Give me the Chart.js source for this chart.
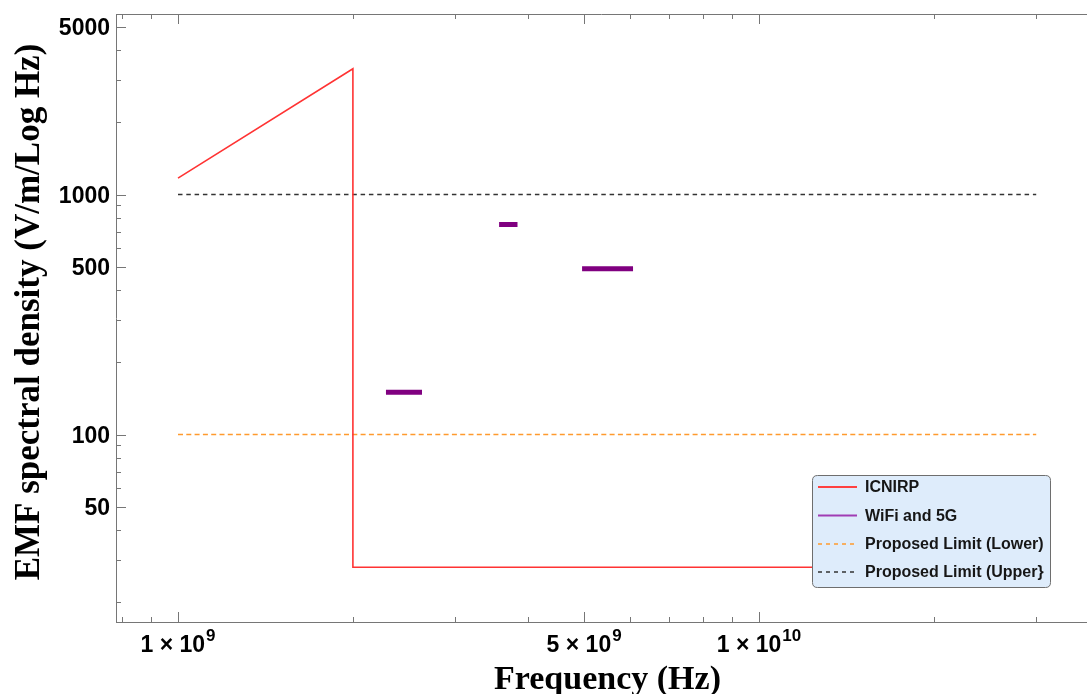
<!DOCTYPE html>
<html>
<head>
<meta charset="utf-8">
<script src="https://cdn.jsdelivr.net/npm/chart.js@4.4.1/dist/chart.umd.min.js"></script>
<style>
  html, body { margin: 0; padding: 0; background: #ffffff; }
  #wrap { width: 1087px; height: 694px; position: relative; }
</style>
</head>
<body>
<div id="wrap"><canvas id="c"></canvas></div>
<script>
// ---- data ----
const icnirpFreq  = [1e9, 2e9, 2e9, 3e10];
const icnirpValue = [1170, 3340, 28, 28];

const wifiStart = [2.28e9, 3.57e9, 4.96e9];
const wifiEnd   = [2.63e9, 3.84e9, 6.07e9];
const wifiValue = [150, 750, 490];

const limitFreq  = [1e9, 3e10];
const lowerLimit = [100, 100];
const upperLimit = [1000, 1000];

const xTickValues   = [1e9, 5e9, 1e10];
const xTickMantissa = ['1', '5', '1'];
const xTickExponent = ['9', '9', '10'];
const xMinorTicks = [8e8, 9e8, 2e9, 3e9, 4e9, 6e9, 7e9, 8e9, 9e9, 2e10, 3e10];
const yTickValues = [50, 100, 500, 1000, 5000];
const yTickLabels = ['50', '100', '500', '1000', '5000'];
const yMinorTicks = [20, 30, 40, 60, 70, 80, 90, 200, 300, 400, 600, 700, 800, 900, 2000, 3000, 4000];

const seriesLabels = ['ICNIRP', 'WiFi and 5G', 'Proposed Limit (Lower)', 'Proposed Limit (Upper}'];
const xTitle = 'Frequency (Hz)';
const yTitle = 'EMF spectral density (V/m/Log Hz)';

// ---- build datasets ----
const icnirpPts = icnirpFreq.map((f, i) => ({x: f, y: icnirpValue[i]}));
const wifiPts = [];
wifiStart.forEach((s, i) => {
  wifiPts.push({x: s, y: wifiValue[i]});
  wifiPts.push({x: wifiEnd[i], y: wifiValue[i]});
  if (i < wifiStart.length - 1) wifiPts.push({x: (wifiEnd[i] + wifiStart[i + 1]) / 2, y: null});
});
const lowerPts = limitFreq.map((f, i) => ({x: f, y: lowerLimit[i]}));
const upperPts = limitFreq.map((f, i) => ({x: f, y: upperLimit[i]}));

const FRAME = '#767676';
const SANS = '"Liberation Sans", Arial, sans-serif';
const SERIF = '"Liberation Serif", "Times New Roman", serif';

const legendStyles = [
  {color: '#ff4040', width: 2, dash: []},
  {color: '#a03cb4', width: 2, dash: []},
  {color: '#ff9a2e', width: 1.5, dash: [4, 4]},
  {color: '#333333', width: 1.5, dash: [4, 4]}
];

const framePlugin = {
  id: 'frameTicks',
  beforeDatasetsDraw(chart) {
    const {ctx, chartArea: a, scales: {x, y}} = chart;
    ctx.save();
    ctx.strokeStyle = FRAME;
    ctx.lineWidth = 1;
    ctx.beginPath();
    ctx.moveTo(a.left, Math.round(a.top) + 0.5);
    ctx.lineTo(a.right, Math.round(a.top) + 0.5);
    ctx.stroke();
    const xt = (v, len) => {
      const px = Math.round(x.getPixelForValue(v)) + 0.5;
      ctx.beginPath();
      ctx.moveTo(px, a.bottom); ctx.lineTo(px, a.bottom - len);
      ctx.moveTo(px, a.top); ctx.lineTo(px, a.top + len);
      ctx.stroke();
    };
    const yt = (v, len) => {
      const py = Math.round(y.getPixelForValue(v)) + 0.5;
      ctx.beginPath();
      ctx.moveTo(a.left, py); ctx.lineTo(a.left + len, py);
      ctx.stroke();
    };
    xTickValues.forEach(v => xt(v, 10));
    xMinorTicks.forEach(v => xt(v, 5));
    yTickValues.forEach(v => yt(v, 10));
    yMinorTicks.forEach(v => yt(v, 5));
    ctx.restore();
  },
  afterDraw(chart) {
    const {ctx, chartArea: a, scales: {x}} = chart;
    ctx.save();
    ctx.fillStyle = '#000';
    ctx.textBaseline = 'alphabetic';
    ctx.textAlign = 'left';
    const baseFont = 'bold 23px ' + SANS;
    const supFont = 'bold 17px ' + SANS;
    const baseY = a.bottom + 29.5;
    xTickValues.forEach((v, i) => {
      const p1 = xTickMantissa[i] + ' \u00d7 10';
      const p2 = xTickExponent[i];
      ctx.font = baseFont; const w1 = ctx.measureText(p1).width;
      ctx.font = supFont; const w2 = ctx.measureText(p2).width;
      const left = x.getPixelForValue(v) - (w1 + w2 + 1) / 2;
      ctx.font = baseFont; ctx.fillText(p1, left, baseY);
      ctx.font = supFont; ctx.fillText(p2, left + w1 + 1, baseY - 11);
    });
    // axis titles
    ctx.textAlign = 'center';
    ctx.textBaseline = 'alphabetic';
    ctx.font = 'bold 34px ' + SERIF;
    ctx.fillText(xTitle, (a.left + a.right) / 2 + 6, 689);
    ctx.save();
    ctx.translate(39, 312);
    ctx.rotate(-Math.PI / 2);
    ctx.font = 'bold 35px ' + SERIF;
    ctx.fillText(yTitle, 0, 0);
    ctx.restore();
    ctx.restore();
  }
};

const legendPlugin = {
  id: 'boxLegend',
  afterDraw(chart) {
    const {ctx} = chart;
    const bx = 812.5, by = 475.5, bw = 238, bh = 112, r = 5;
    ctx.save();
    ctx.beginPath();
    ctx.moveTo(bx + r, by);
    ctx.lineTo(bx + bw - r, by);
    ctx.quadraticCurveTo(bx + bw, by, bx + bw, by + r);
    ctx.lineTo(bx + bw, by + bh - r);
    ctx.quadraticCurveTo(bx + bw, by + bh, bx + bw - r, by + bh);
    ctx.lineTo(bx + r, by + bh);
    ctx.quadraticCurveTo(bx, by + bh, bx, by + bh - r);
    ctx.lineTo(bx, by + r);
    ctx.quadraticCurveTo(bx, by, bx + r, by);
    ctx.closePath();
    ctx.fillStyle = '#deecfb';
    ctx.fill();
    ctx.strokeStyle = '#6e6e6e';
    ctx.lineWidth = 1;
    ctx.stroke();
    const rows = [487, 515.5, 544, 572];
    ctx.font = 'bold 16px ' + SANS;
    ctx.textBaseline = 'middle';
    ctx.textAlign = 'left';
    chart.data.datasets.forEach((ds, i) => {
      const st = legendStyles[i];
      ctx.strokeStyle = st.color;
      ctx.lineWidth = st.width;
      ctx.setLineDash(st.dash);
      ctx.beginPath();
      ctx.moveTo(818, rows[i]);
      ctx.lineTo(857, rows[i]);
      ctx.stroke();
      ctx.setLineDash([]);
      ctx.fillStyle = '#161616';
      ctx.fillText(ds.label, 865, rows[i] + 1);
    });
    ctx.restore();
  }
};

const xMin = Math.pow(10, 9 + (116 - 178) / 581);
const xMax = Math.pow(10, 9 + (1087 - 178) / 581);
const yMin = Math.pow(10, 2 - (622.5 - 435) / 240);
const yMax = Math.pow(10, 3 + (195 - 14.5) / 240);

new Chart(document.getElementById('c'), {
  type: 'line',
  data: {
    datasets: [
      {label: seriesLabels[0], data: icnirpPts, borderColor: '#ff3333', borderWidth: 1.6, pointRadius: 0, tension: 0},
      {label: seriesLabels[1], data: wifiPts, borderColor: '#800080', borderWidth: 5, borderCapStyle: 'butt', pointRadius: 0, spanGaps: false, tension: 0},
      {label: seriesLabels[2], data: lowerPts, borderColor: '#ff9a2e', borderWidth: 1.6, borderDash: [5, 3.3], pointRadius: 0},
      {label: seriesLabels[3], data: upperPts, borderColor: '#333333', borderWidth: 1.6, borderDash: [4.5, 3.8], pointRadius: 0}
    ]
  },
  options: {
    responsive: true,
    maintainAspectRatio: false,
    animation: false,
    layout: {padding: {top: 14, right: 0, bottom: 0, left: 0}},
    plugins: {legend: {display: false}, tooltip: {enabled: false}},
    scales: {
      x: {
        type: 'logarithmic',
        min: xMin, max: xMax,
        grid: {display: false, drawTicks: false},
        border: {display: true, color: FRAME, width: 1},
        afterBuildTicks: s => { s.ticks = xTickValues.map(v => ({value: v})); },
        afterFit: s => { s.height = 72; s.paddingLeft = 0; s.paddingRight = 0; },
        ticks: {display: false},
        title: {display: false}
      },
      y: {
        type: 'logarithmic',
        min: yMin, max: yMax,
        grid: {display: false, drawTicks: false},
        border: {display: true, color: FRAME, width: 1},
        afterBuildTicks: s => { s.ticks = yTickValues.map(v => ({value: v})); },
        afterFit: s => { s.width = 116; s.paddingTop = 0; s.paddingBottom = 0; },
        ticks: {
          autoSkip: false, padding: 6, labelOffset: 2,
          color: '#000',
          font: {family: SANS, size: 23, weight: 'bold'},
          callback: v => { const i = yTickValues.indexOf(v); return i >= 0 ? yTickLabels[i] : ''; }
        },
        title: {display: false}
      }
    }
  },
  plugins: [framePlugin, legendPlugin]
});
</script>
</body>
</html>
